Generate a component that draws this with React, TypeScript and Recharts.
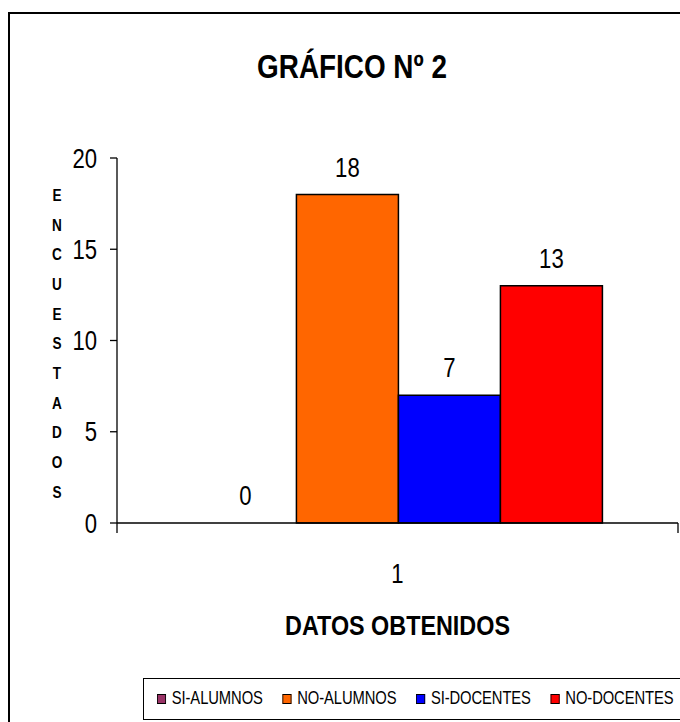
import React from 'react';
import { BarChart, Bar, XAxis, YAxis, LabelList } from 'recharts';

const categories = ['1'];
const seriesNames = ['SI-ALUMNOS', 'NO-ALUMNOS', 'SI-DOCENTES', 'NO-DOCENTES'];
const siAlumnos = [0];
const noAlumnos = [18];
const siDocentes = [7];
const noDocentes = [13];
const seriesColors = ['#993366', '#FF6600', '#0000FF', '#FF0000'];
const yTicks = [0, 5, 10, 15, 20];
const chartTitle = 'GRÁFICO Nº 2';
const xTitle = 'DATOS OBTENIDOS';
const yTitle = 'ENCUESTADOS';

const seriesValues = [siAlumnos, noAlumnos, siDocentes, noDocentes];
const seriesKeys = ['s0', 's1', 's2', 's3'];

const data = categories.map((c, i) => {
  const row: Record<string, any> = { cat: c };
  seriesKeys.forEach((k, j) => {
    row[k] = seriesValues[j][i];
  });
  return row;
});

const FONT = "'Liberation Sans', Arial, sans-serif";
const SX = 0.82;

const NText = (props: any) => {
  const { x, y, anchor = 'middle', size, bold, dy, children, sx = SX } = props;
  return (
    <text
      transform={`translate(${x},${y}) scale(${sx},1)`}
      x={0}
      y={0}
      dy={dy}
      textAnchor={anchor}
      fontFamily={FONT}
      fontWeight={bold ? 'bold' : 'normal'}
      fontSize={size}
      fill="#000"
    >
      {children}
    </text>
  );
};

const XTick = (props: any) => {
  const { x, y, payload } = props;
  const off = payload && typeof payload.offset === 'number' ? payload.offset : 0;
  return (
    <g>
      {off > 0 && (
        <>
          <line x1={x - off} y1={y} x2={x - off} y2={y + 10} stroke="#000" strokeWidth={1.3} />
          <line x1={x + off} y1={y} x2={x + off} y2={y + 10} stroke="#000" strokeWidth={1.3} />
        </>
      )}
      <NText x={x} y={y + 60} size={27}>
        {payload.value}
      </NText>
    </g>
  );
};

const YTick = (props: any) => {
  const { x, y, payload } = props;
  return (
    <NText x={x} y={y} anchor="end" dy="0.355em" size={27}>
      {payload.value}
    </NText>
  );
};

const YTitle = (props: any) => {
  const vb = props.viewBox || { x: 0, y: 0, width: 0, height: 0 };
  const letters = yTitle.split('');
  const spacing = 29.7;
  const cy = vb.y + vb.height / 2 + 3;
  const start = cy - ((letters.length - 1) * spacing) / 2;
  return (
    <g>
      {letters.map((l, i) => (
        <NText key={i} x={57} y={start + i * spacing + 5.8} size={16} bold sx={0.85}>
          {l}
        </NText>
      ))}
    </g>
  );
};

const XTitle = (props: any) => {
  const vb = props.viewBox || { x: 0, y: 0, width: 0, height: 0 };
  return (
    <NText x={vb.x + vb.width / 2} y={vb.y + 112} size={28.5} bold>
      {xTitle}
    </NText>
  );
};

const BarValueLabel = (props: any) => {
  const { x, y, width, value } = props;
  if (x == null || y == null) return null;
  return (
    <NText x={Number(x) + Number(width) / 2} y={Number(y) - 18} size={27}>
      {value}
    </NText>
  );
};

export default function App() {
  return (
    <div
      style={{
        position: 'absolute',
        left: 0,
        top: 0,
        width: 680,
        height: 722,
        overflow: 'hidden',
        background: '#fff',
      }}
    >
      <div
        style={{
          position: 'absolute',
          left: 8,
          top: 12,
          width: 700,
          height: 740,
          border: '2px solid #000',
          boxSizing: 'border-box',
        }}
      />
      <svg width={680} height={722} style={{ position: 'absolute', left: 0, top: 0 }}>
        <NText x={352} y={78} size={34} bold>
          {chartTitle}
        </NText>
      </svg>
      <div style={{ position: 'absolute', left: 0, top: 0 }}>
        <BarChart
          width={680}
          height={722}
          data={data}
          margin={{ top: 158, right: 2, left: 0, bottom: 139 }}
          barCategoryGap="13.8%"
          barGap={0}
        >
          <XAxis
            dataKey="cat"
            height={60}
            tickLine={false}
            tickSize={0}
            tickMargin={0}
            axisLine={{ stroke: '#000', strokeWidth: 1.3 }}
            tick={<XTick />}
            label={<XTitle />}
          />
          <YAxis
            width={117}
            domain={[0, 20]}
            ticks={yTicks}
            interval={0}
            tickSize={7}
            tickMargin={13}
            axisLine={{ stroke: '#000', strokeWidth: 1.3 }}
            tickLine={{ stroke: '#000', strokeWidth: 1.3 }}
            tick={<YTick />}
            label={<YTitle />}
          />
          {seriesKeys.map((k, j) => (
            <Bar
              key={k}
              dataKey={k}
              name={seriesNames[j]}
              fill={seriesColors[j]}
              stroke={seriesValues[j].every((v) => v === 0) ? 'none' : '#000'}
              strokeWidth={1.5}
              minPointSize={0.01}
              isAnimationActive={false}
            >
              <LabelList dataKey={k} position="top" content={<BarValueLabel />} />
            </Bar>
          ))}
        </BarChart>
      </div>
      <div
        style={{
          position: 'absolute',
          left: 143,
          top: 678,
          width: 600,
          height: 42,
          border: '1.5px solid #000',
          boxSizing: 'border-box',
        }}
      >
        <div
          style={{
            position: 'absolute',
            left: 12.5,
            top: 0,
            height: 39,
            display: 'flex',
            alignItems: 'center',
            whiteSpace: 'nowrap',
            transform: `scaleX(${SX})`,
            transformOrigin: 'left center',
            fontFamily: FONT,
            fontSize: 18,
            letterSpacing: -0.1,
            color: '#000',
          }}
        >
          {seriesNames.map((n, j) => (
            <div key={n} style={{ display: 'flex', alignItems: 'center', marginRight: 24 }}>
              <span
                style={{
                  display: 'inline-block',
                  width: 9,
                  height: 8,
                  background: seriesColors[j],
                  border: '1.3px solid #000',
                  marginRight: 7,
                }}
              />
              <span>{n}</span>
            </div>
          ))}
        </div>
      </div>
    </div>
  );
}
